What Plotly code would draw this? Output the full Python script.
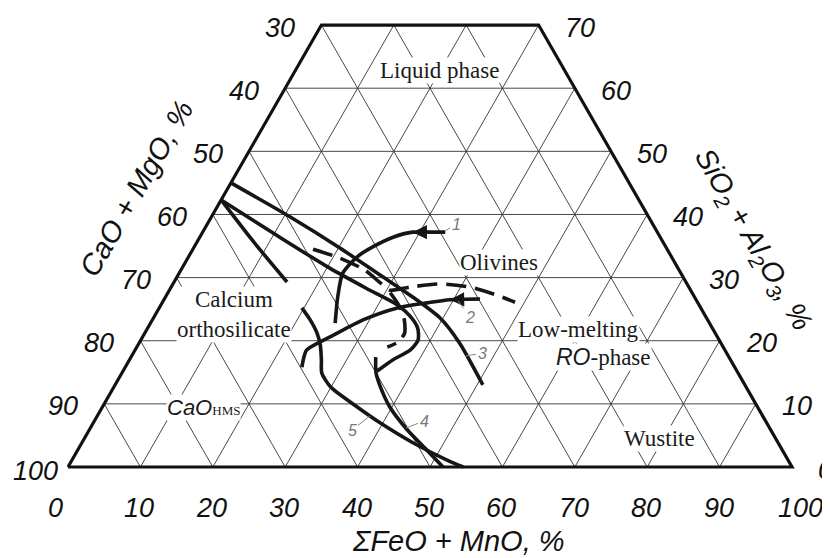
import numpy as np
import plotly.graph_objects as go

# page is 830x558; the browser body has an 8px margin, so the figure is 8px smaller
OFF = 8
W, H = 830 - OFF, 558 - OFF

# ---------------- axis ticks / labels ----------------
grid_vals = [10, 20, 30, 40, 50, 60, 70, 80, 90]
SIO2_MAX = 70
sio2_levels = [70, 60, 50, 40, 30, 20, 10, 0]
left_labels = ["30", "40", "50", "60", "70", "80", "90", "100"]      # CaO + MgO, %
right_labels = ["70", "60", "50", "40", "30", "20", "10", "0"]       # SiO2 + Al2O3, %
feo_ticks = [0, 10, 20, 30, 40, 50, 60, 70, 80, 90, 100]
bottom_labels = ["0", "10", "20", "30", "40", "50", "60", "70", "80", "90", "100"]  # FeO + MnO, %

# ---------------- curves: (FeO+MnO %, SiO2+Al2O3 %) ----------------
curve1_feo = [33.5, 31.4, 29.0, 26.7, 24.7, 23.3, 22.6, 23.8, 25.5]
curve1_sio2 = [37.2, 37.2, 37.2, 36.4, 34.9, 33.3, 30.7, 26.9, 22.8]

curve2_feo = [43.6, 39.5, 36.6, 32.9, 29.1, 25.9, 24.9, 23.7, 24.0, 24.4]
curve2_sio2 = [26.6, 26.5, 26.0, 25.2, 23.3, 20.6, 19.8, 18.5, 17.0, 15.8]

curve3_feo = [0.0, 10.9, 20.2, 27.9, 34.2, 39.6, 44.3, 50.8]
curve3_sio2 = [45.0, 39.6, 34.7, 30.4, 26.9, 23.6, 19.6, 13.0]

curve4_feo = [33.8, 35.1, 36.8, 39.7, 43.9, 48.2, 51.8]
curve4_sio2 = [17.4, 14.9, 12.7, 9.5, 5.9, 2.7, 0.0]

curve5_feo = [19.7, 21.8, 23.8, 25.2, 26.5, 27.6, 29.9, 35.2, 39.6, 45.8, 51.8, 54.6]
curve5_sio2 = [25.2, 23.3, 21.2, 19.3, 17.0, 14.9, 12.7, 9.5, 7.0, 3.8, 1.1, 0.0]

bound_a_feo = [0.0, 10.1, 20.4, 27.7, 32.6, 35.3, 37.3, 38.3, 38.0, 36.4, 35.1]
bound_a_sio2 = [42.3, 36.9, 31.5, 28.0, 25.7, 23.9, 22.0, 20.1, 18.5, 17.0, 15.2]

bound_b_feo = [0.0, 7.4, 15.6]
bound_b_sio2 = [42.3, 36.0, 29.3]

dash_feo = [16.6, 21.0, 25.4, 28.5, 30.5, 33.0, 36.9, 41.3, 45.4, 48.7]
dash_sio2 = [34.5, 33.1, 31.2, 29.2, 28.0, 28.5, 29.0, 28.5, 27.3, 26.1]

dash2_feo = [30.7, 32.8, 34.8, 35.9, 35.7, 34.6]
dash2_sio2 = [27.6, 25.7, 23.3, 21.2, 19.8, 19.0]

R3 = np.sqrt(3) / 2


def tern(feo, sio2):
    f = np.asarray(feo, dtype=float)
    s = np.asarray(sio2, dtype=float)
    return f + s / 2, s * R3


# pixel mapping (page pixels) of the ternary origin and scale
X0PX, Y0PX, SX, SY = 68.0, 467.0, 7.24, 7.29
xr = [-(X0PX - OFF) / SX, (W + OFF - X0PX) / SX]
yr = [-(H + OFF - Y0PX) / SY, (Y0PX - OFF) / SY]


def pix2data(px, py):
    return (px - X0PX) / SX, (Y0PX - py) / SY


def paper(px, py):
    return (px - OFF) / W, 1 - (py - OFF) / H


SANS = "Liberation Sans, Arial, sans-serif"
SERIF = "Liberation Serif, Times New Roman, serif"

fig = go.Figure()

# ---------------- grid ----------------
gx, gy = [], []
for s in grid_vals:
    if s < SIO2_MAX:
        x, y = tern([0, 100 - s], [s, s])
        gx += list(x) + [None]
        gy += list(y) + [None]
for f in grid_vals:
    top = min(SIO2_MAX, 100 - f)
    x, y = tern([f, f], [0, top])
    gx += list(x) + [None]
    gy += list(y) + [None]
for c in grid_vals:
    top = min(SIO2_MAX, 100 - c)
    x, y = tern([100 - c, 100 - c - top], [0, top])
    gx += list(x) + [None]
    gy += list(y) + [None]
fig.add_trace(go.Scatter(x=gx, y=gy, mode="lines",
                         line=dict(color="#333333", width=0.9), hoverinfo="skip"))

# ---------------- border ----------------
bx, by = tern([0, 100, 100 - SIO2_MAX, 0, 0], [0, 0, SIO2_MAX, SIO2_MAX, 0])
fig.add_trace(go.Scatter(x=bx, y=by, mode="lines",
                         line=dict(color="#111", width=3.2), hoverinfo="skip"))

# ---------------- curves ----------------
LW = 3.6
solid = [(curve1_feo, curve1_sio2), (curve2_feo, curve2_sio2), (curve3_feo, curve3_sio2),
         (curve4_feo, curve4_sio2), (curve5_feo, curve5_sio2),
         (bound_a_feo, bound_a_sio2), (bound_b_feo, bound_b_sio2)]
for fe, si in solid:
    x, y = tern(fe, si)
    fig.add_trace(go.Scatter(x=x, y=y, mode="lines",
                             line=dict(color="#161616", width=LW, shape="spline", smoothing=0.7),
                             hoverinfo="skip"))
for fe, si in [(dash_feo, dash_sio2), (dash2_feo, dash2_sio2)]:
    x, y = tern(fe, si)
    fig.add_trace(go.Scatter(x=x, y=y, mode="lines",
                             line=dict(color="#161616", width=LW, shape="spline", smoothing=0.6,
                                       dash="20px,9px"),
                             hoverinfo="skip"))

ann = []

# arrows on curves 1 and 2
for fe, si, i0, i1 in [(curve1_feo, curve1_sio2, 1, 2), (curve2_feo, curve2_sio2, 0, 1)]:
    tx, ty = tern(fe[i0], si[i0])
    hx, hy = tern(fe[i1], si[i1])
    ann.append(dict(x=float(hx), y=float(hy), ax=float(tx), ay=float(ty), xref="x", yref="y",
                    axref="x", ayref="y", text="", showarrow=True, arrowhead=2,
                    arrowsize=1.1, arrowwidth=2.6, arrowcolor="#161616"))

# ---------------- tick labels ----------------
TF = dict(family=SANS, size=27, color="#111")
for s, lab in zip(sio2_levels, left_labels):
    x, y = tern(0, s)
    ann.append(dict(x=float(x), y=float(y), xref="x", yref="y", text="<i>%s</i>" % lab,
                    showarrow=False, xanchor="right", yanchor="middle",
                    xshift=-24 if s > 0 else -8, yshift=-2.5 if s > 0 else -4, font=TF))
for s, lab in zip(sio2_levels, right_labels):
    x, y = tern(100 - s, s)
    ann.append(dict(x=float(x), y=float(y), xref="x", yref="y", text="<i>%s</i>" % lab,
                    showarrow=False, xanchor="left", yanchor="middle",
                    xshift=24, yshift=-2.5, font=TF))
for f, lab in zip(feo_ticks, bottom_labels):
    x, y = tern(f, 0)
    xs = -13 if f == 0 else (8 if f == 100 else -1)
    ann.append(dict(x=float(x), y=float(y), xref="x", yref="y", text="<i>%s</i>" % lab,
                    showarrow=False, xanchor="center", yanchor="middle",
                    xshift=xs, yshift=-41, font=TF))

# ---------------- axis titles ----------------
TTF = dict(family=SANS, size=29, color="#111")
titles = [
    (136, 189, "<i>CaO + MgO, %</i>", -60),
    (752, 240, "<i>SiO<sub>2</sub> + Al<sub>2</sub>O<sub>3</sub>, %</i>", 60),
    (458, 541, "<i>\u03a3FeO + MnO, %</i>", 0),
]
for cx, cy, t, ang in titles:
    px_, py_ = paper(cx, cy)
    ann.append(dict(x=px_, y=py_, xref="paper", yref="paper", text=t, showarrow=False,
                    textangle=ang, xanchor="center", yanchor="middle", font=TTF))

# ---------------- region labels ----------------
RF = dict(family=SERIF, size=23, color="#1a1a1a")
regions = [
    (439, 71, "Liquid phase"),
    (499, 262, "Olivines"),
    (234, 314, "Calcium<br>orthosilicate"),
    (659, 438, "Wustite"),
    (578, 329, "Low-melting"),
    (603, 357, "<span style='font-family:Liberation Sans'><i>RO</i></span>-phase"),
    (203, 407, "<span style='font-family:Liberation Sans;font-size:22px'><i>CaO</i></span>"
               "<span style='font-size:13px'>HMS</span>"),
]
for cx, cy, t in regions:
    px_, py_ = paper(cx, cy)
    ann.append(dict(x=px_, y=py_, xref="paper", yref="paper", text=t, showarrow=False,
                    xanchor="center", yanchor="middle",
                    font=RF, bgcolor="white", borderpad=0))

# ---------------- curve numbers ----------------
NF = dict(family=SANS, size=16, color="#777")
numbers = [("1", (445, 231), 11, -7), ("2", (458, 301), 12, 16), ("3", (466, 356), 16, -3),
           ("4", (406, 428), 18, -7), ("5", (370, 416), -18, 14)]
for t, (px, py), dx, dy in numbers:
    xx, yy = pix2data(px, py)
    ann.append(dict(x=xx, y=yy, xref="x", yref="y", text="<i>%s</i>" % t, showarrow=True,
                    ax=dx, ay=dy, arrowhead=0, arrowwidth=1, arrowcolor="#888", font=NF))

fig.update_layout(
    width=W, height=H, margin=dict(l=0, r=0, t=0, b=0, pad=0),
    paper_bgcolor="white", plot_bgcolor="white", showlegend=False,
    xaxis=dict(range=xr, visible=False, fixedrange=True),
    yaxis=dict(range=yr, visible=False, fixedrange=True),
    annotations=ann,
)

fig.write_html("out.html")
